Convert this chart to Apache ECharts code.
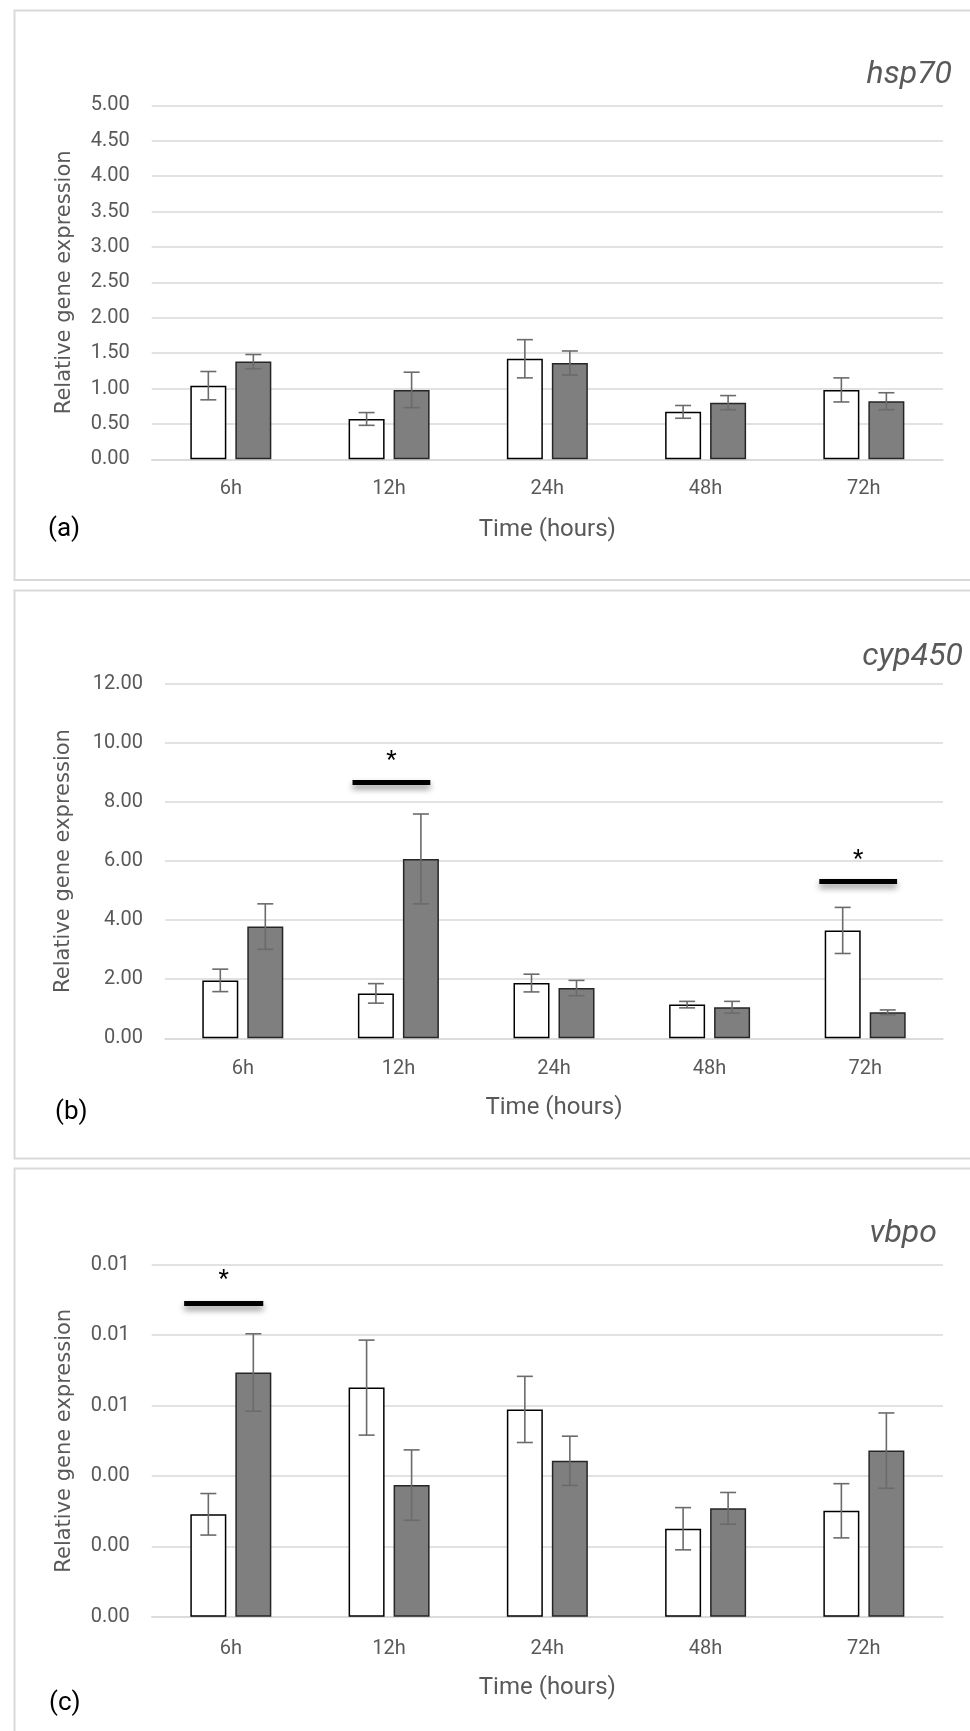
<!DOCTYPE html>
<html><head><meta charset="utf-8">
<script src="https://cdn.jsdelivr.net/npm/echarts@6/dist/echarts.min.js"></script>
<style>html,body{margin:0;padding:0;background:#fff}#c{width:970px;height:1731px}</style>
</head><body><div id="c"></div>
<script>
// ---------- data ----------
const categories = ['6h', '12h', '24h', '48h', '72h'];
const geneNames = ['hsp70', 'cyp450', 'vbpo'];
const panelLabels = ['(a)', '(b)', '(c)'];
const xAxisTitle = 'Time (hours)';
const yAxisTitle = 'Relative gene expression';

const hspControl = [1.04, 0.57, 1.42, 0.67, 0.98];
const hspControlErr = [0.20, 0.09, 0.27, 0.09, 0.17];
const hspTreated = [1.38, 0.98, 1.36, 0.80, 0.82];
const hspTreatedErr = [0.10, 0.25, 0.17, 0.10, 0.12];

const cypControl = [1.96, 1.52, 1.87, 1.14, 3.65];
const cypControlErr = [0.38, 0.33, 0.30, 0.11, 0.78];
const cypTreated = [3.78, 6.07, 1.70, 1.05, 0.88];
const cypTreatedErr = [0.77, 1.52, 0.26, 0.20, 0.08];

const vbpoControl = [0.00291, 0.00651, 0.00589, 0.00250, 0.00301];
const vbpoControlErr = [0.00059, 0.00135, 0.00094, 0.00060, 0.00077];
const vbpoTreated = [0.00694, 0.00374, 0.00443, 0.00308, 0.00472];
const vbpoTreatedErr = [0.00110, 0.00100, 0.00070, 0.00045, 0.00107];

// significance marks: category index, bar level, star level
const hspSigCategory = [];
const hspSigBar = [];
const hspSigStar = [];
const cypSigCategory = [1, 4];
const cypSigBar = [8.66, 5.31];
const cypSigStar = [9.59, 6.24];
const vbpoSigCategory = [0];
const vbpoSigBar = [0.0089];
const vbpoSigStar = [0.00974];

const yMax = [5, 12, 0.01];
const yInterval = [0.5, 2, 0.002];

// ---------- layout / style ----------
const W = 970;
const grids = [
  { left: 151.7, top: 105.3, width: 791.3, height: 354 },
  { left: 165, top: 683.7, width: 778, height: 354.6 },
  { left: 151.7, top: 1264.8, width: 791.3, height: 351.9 }
];
const panels = [
  { y: 8, h: 569.5 },
  { y: 588, h: 568 },
  { y: 1166, h: 600 }
];
const genePos = [[952, 75], [963, 657], [937, 1233.5]];
const labelPos = [[48, 529], [55, 1112], [49, 1703]];
const yNameGap = [77, 90.5, 77];
const xLabelMargin = [20, 21, 22];
const xNameGap = [59, 58, 59];

const TICK_FONT = 'Roboto';
const GRAY_TEXT = '#595959';
const BAR_W = 36;
const BAR_OFF = 22.5;

function errorSeries(idx, values, errs, offset) {
  return {
    type: 'custom', xAxisIndex: idx, yAxisIndex: idx, z: 5, silent: true,
    data: values.map((v, i) => [i, v, errs[i]]),
    encode: { x: 0, y: 1 },
    renderItem(params, api) {
      const i = api.value(0), v = api.value(1), e = api.value(2);
      const top = api.coord([i, v + e]);
      const bot = api.coord([i, v - e]);
      const x = top[0] + offset;
      const hw = 8;
      const st = { stroke: '#6b6b6b', lineWidth: 1.6 };
      return {
        type: 'group', children: [
          { type: 'line', shape: { x1: x, y1: top[1], x2: x, y2: bot[1] }, style: st },
          { type: 'line', shape: { x1: x - hw, y1: top[1], x2: x + hw, y2: top[1] }, style: st },
          { type: 'line', shape: { x1: x - hw, y1: bot[1], x2: x + hw, y2: bot[1] }, style: st }
        ]
      };
    }
  };
}

function sigSeries(idx, cats, bars, stars) {
  return {
    type: 'custom', xAxisIndex: idx, yAxisIndex: idx, z: 6, silent: true,
    data: cats.map((c, k) => [c, bars[k], stars[k]]),
    encode: { x: 0, y: 1 },
    renderItem(params, api) {
      const c = api.coord([api.value(0), api.value(1)]);
      const s = api.coord([api.value(0), api.value(2)]);
      const w = api.size([1, 0])[0];
      const x1 = c[0] - 0.295 * w, x2 = c[0] + 0.205 * w;
      return {
        type: 'group', children: [
          { type: 'rect', shape: { x: x1, y: c[1] - 2.5, width: x2 - x1, height: 5 },
            style: { fill: '#000', shadowBlur: 6, shadowOffsetY: 4, shadowColor: 'rgba(0,0,0,0.45)' } },
          { type: 'text', x: (x1 + x2) / 2, y: s[1] + 6,
            style: { text: '*', fill: '#000', font: '24px Roboto', align: 'center', verticalAlign: 'middle' } }
        ]
      };
    }
  };
}

const controls = [hspControl, cypControl, vbpoControl];
const controlErrs = [hspControlErr, cypControlErr, vbpoControlErr];
const treateds = [hspTreated, cypTreated, vbpoTreated];
const treatedErrs = [hspTreatedErr, cypTreatedErr, vbpoTreatedErr];
const sigCats = [hspSigCategory, cypSigCategory, vbpoSigCategory];
const sigBars = [hspSigBar, cypSigBar, vbpoSigBar];
const sigStars = [hspSigStar, cypSigStar, vbpoSigStar];

const xAxes = [], yAxes = [], series = [], graphics = [];
for (let p = 0; p < 3; p++) {
  xAxes.push({
    type: 'category', gridIndex: p, data: categories,
    axisLine: { show: true, lineStyle: { color: '#d9d9d9', width: 1.5 } },
    axisTick: { show: false },
    axisLabel: { color: GRAY_TEXT, fontSize: 20, fontFamily: TICK_FONT, margin: xLabelMargin[p] },
    name: xAxisTitle, nameLocation: 'middle', nameGap: xNameGap[p],
    nameTextStyle: { color: GRAY_TEXT, fontSize: 24, fontFamily: TICK_FONT }
  });
  yAxes.push({
    type: 'value', gridIndex: p, min: 0, max: yMax[p], interval: yInterval[p],
    axisLine: { show: false }, axisTick: { show: false },
    splitLine: { lineStyle: { color: '#d9d9d9', width: 1.5 } },
    axisLabel: { color: GRAY_TEXT, fontSize: 20, fontFamily: TICK_FONT, margin: 22,
      formatter: v => v.toFixed(2) },
    name: yAxisTitle, nameLocation: 'middle', nameGap: yNameGap[p], nameRotate: 90,
    nameTextStyle: { color: GRAY_TEXT, fontSize: 21, fontFamily: 'DejaVu Sans' }
  });
  series.push({
    type: 'bar', xAxisIndex: p, yAxisIndex: p, data: controls[p],
    barWidth: BAR_W, barGap: '25%',
    itemStyle: { color: '#ffffff', borderColor: '#000000', borderWidth: 1.5 }
  });
  series.push({
    type: 'bar', xAxisIndex: p, yAxisIndex: p, data: treateds[p],
    barWidth: BAR_W, barGap: '25%',
    itemStyle: { color: '#7f7f7f', borderColor: '#262626', borderWidth: 1.5 }
  });
  series.push(errorSeries(p, controls[p], controlErrs[p], -BAR_OFF));
  series.push(errorSeries(p, treateds[p], treatedErrs[p], BAR_OFF));
  if (sigCats[p].length) series.push(sigSeries(p, sigCats[p], sigBars[p], sigStars[p]));

  graphics.push({
    type: 'rect', left: 12, top: panels[p].y, z: -10,
    shape: { x: 0, y: 0, width: W + 20, height: panels[p].h },
    style: { fill: 'none', stroke: '#d9d9d9', lineWidth: 2 }
  });
  graphics.push({
    type: 'text', x: genePos[p][0], y: genePos[p][1],
    style: { text: geneNames[p], fill: GRAY_TEXT, font: 'italic 32px Roboto', align: 'right', verticalAlign: 'middle' }
  });
  graphics.push({
    type: 'text', x: labelPos[p][0], y: labelPos[p][1],
    style: { text: panelLabels[p], fill: '#000', font: '26px Roboto', align: 'left', verticalAlign: 'middle' }
  });
}

const chart = echarts.init(document.getElementById('c'), null, { renderer: 'canvas' });
chart.setOption({
  backgroundColor: '#ffffff',
  animation: false,
  grid: grids,
  xAxis: xAxes,
  yAxis: yAxes,
  series: series,
  graphic: graphics
});
</script>
</body></html>
